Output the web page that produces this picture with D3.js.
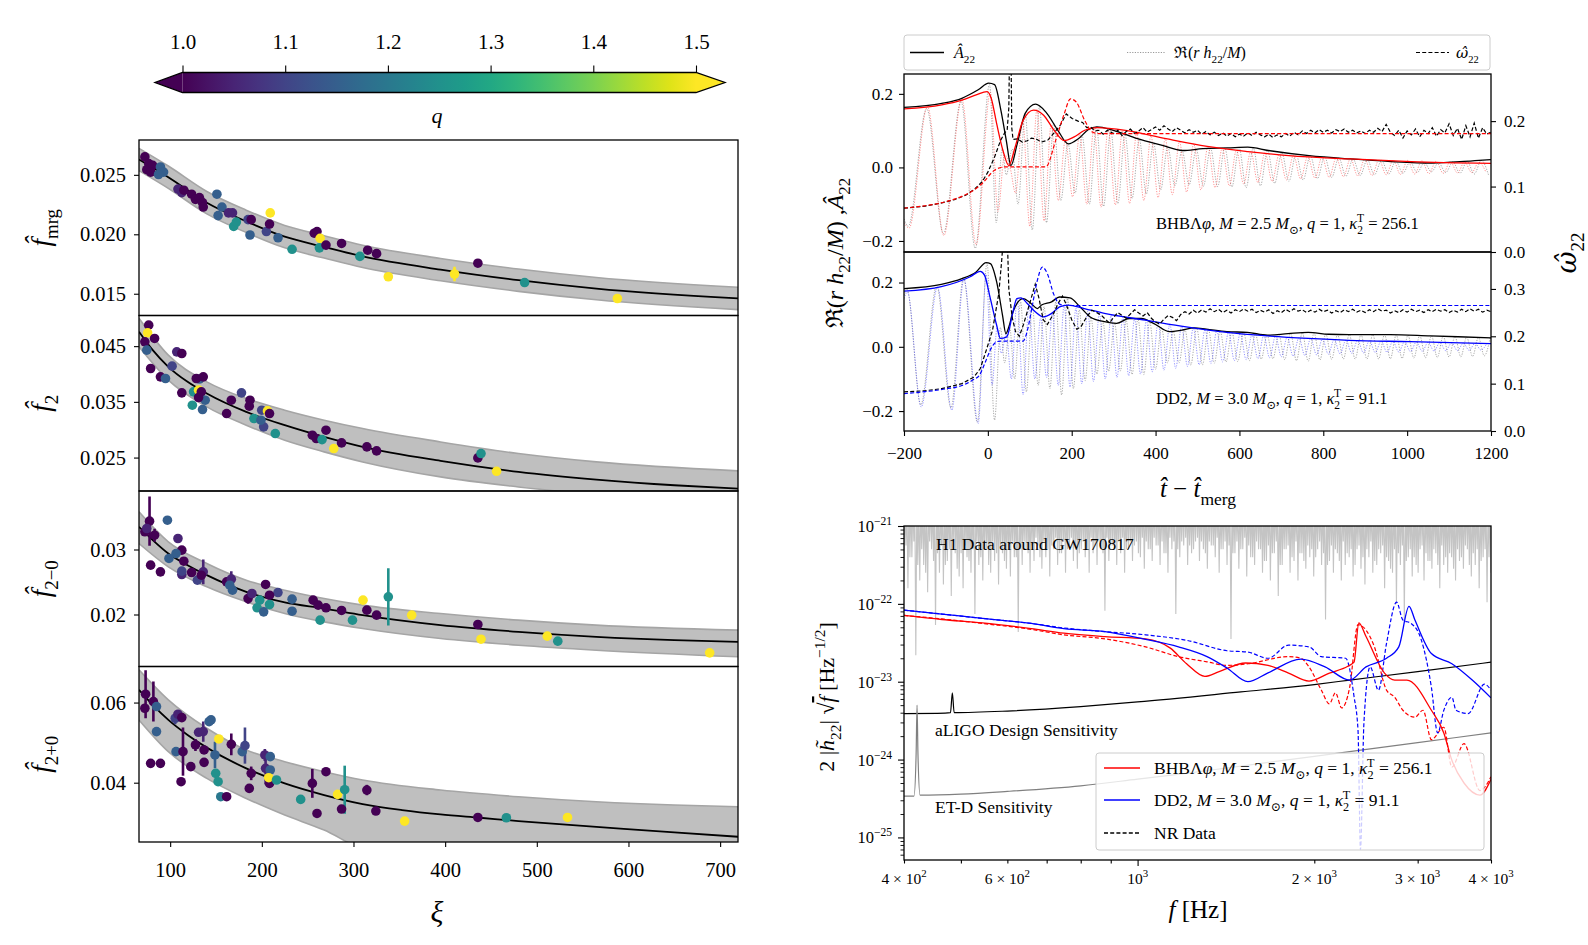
<!DOCTYPE html>
<html><head><meta charset="utf-8">
<script src="https://cdn.jsdelivr.net/npm/d3@7"></script>
<style>
body{margin:0;background:#fff}
svg text{font-family:"Liberation Serif","DejaVu Serif",serif;fill:#000}
</style>
</head><body>
<svg id="c" width="1588" height="945" xmlns="http://www.w3.org/2000/svg"></svg>
<script>
// ================= DATA =================
// colour bar
const qTicks = [1.0, 1.1, 1.2, 1.3, 1.4, 1.5];
const xiTicks = [100, 200, 300, 400, 500, 600, 700];

// left panels: points [xi, value, q, error]
const fmrgPts = [
[72.4,0.02651,1.0,0],[76.6,0.02594,1.0,0],[74.5,0.02543,1.0,0],[80.9,0.0258,1.0,0],[78.7,0.02523,1.0,0],
[89.4,0.02566,1.15,0],[92.8,0.02523,1.15,0],[87.3,0.02503,1.15,0],
[108.5,0.0238,1.05,0],[112.7,0.02351,1.05,0.0004],[114.9,0.02371,1.0,0],[123.4,0.02337,1.0,0],[127.6,0.02294,1.0,0],[131.9,0.02309,1.0,0],[135.3,0.02266,1.0,0],[136.1,0.02229,1.0,0],
[151.0,0.02337,1.15,0],[156.5,0.02229,1.15,0],[152.3,0.02157,1.15,0],[163.7,0.0218,1.05,0],[168.0,0.0218,1.05,0],[169.3,0.02066,1.25,0.0003],[172.2,0.02103,1.25,0],
[185,0.02123,1.1,0],[188.4,0.02123,1.0,0.0002],[187.1,0.01994,1.15,0],[205,0.02023,1.1,0],[208.4,0.02086,1.0,0.0002],[209.2,0.0218,1.5,0],[217.7,0.01971,1.15,0],[233,0.01874,1.25,0],
[257.2,0.02009,1.0,0],[260.2,0.02023,1.0,0.0003],[263.6,0.01966,1.5,0],[262.8,0.01886,1.25,0],[270,0.01909,1.0,0],[287,0.01923,1.0,0.0002],[307,0.01814,1.25,0],[315.5,0.01866,1.0,0],[325.2,0.01837,1.0,0],
[338,0.01643,1.5,0],[410.2,0.01666,1.5,0.0006],[435.7,0.01757,1.0,0.0003],[486.7,0.01594,1.25,0],[587.9,0.0146,1.5,0]
];
const f2Pts = [
[76.6,0.04877,1.0,0],[75.4,0.0474,1.5,0],[72.4,0.04578,1.0,0],[83,0.04638,1.0,0],[74.5,0.04428,1.15,0],[78.7,0.04099,1.0,0],[89.4,0.03949,1.0,0],[94.9,0.03919,1.15,0],[102.1,0.04141,1.1,0],[107.2,0.04398,1.05,0],[112.7,0.04368,1.0,0],[112.7,0.03662,1.0,0],[125.5,0.0368,1.25,0],[124.2,0.0344,1.25,0],[131.9,0.03909,1.15,0],[128.5,0.03919,1.0,0],[136.1,0.03949,1.0,0],[131,0.0371,1.5,0],[134,0.0368,1.0,0],[138.2,0.0353,1.15,0],[135.3,0.03362,1.15,0],[131,0.03578,1.0,0],[161.6,0.0329,1.0,0],[166.7,0.0353,1.0,0.0006],[177.8,0.03662,1.1,0],[187.1,0.0353,1.0,0],[186.3,0.03422,1.0,0],[191.4,0.032,1.25,0],[199.9,0.0335,1.1,0],[206.2,0.03338,1.5,0.0006],[208.4,0.0329,1.0,0],[202,0.03051,1.1,0],[199,0.03171,1.15,0],[214.7,0.02931,1.25,0],[255.1,0.02901,1.0,0],[259.4,0.02841,1.0,0],[265.7,0.02823,1.25,0.0006],[270,0.02991,1.0,0],[278.5,0.02662,1.5,0],[287,0.02763,1.0,0],[314.6,0.02692,1.0,0],[325.2,0.0262,1.0,0],[435.7,0.02494,1.0,0],[439.1,0.02572,1.25,0],[456.1,0.02254,1.5,0.0003]
];
const f2mPts = [
[77.5,0.03436,1.0,0.0038],[72.4,0.03272,1.0,0],[74.5,0.03323,1.05,0.001],[83,0.0322,1.0,0.001],[78.7,0.02759,1.0,0],[89.4,0.02656,1.0,0],[97,0.03451,1.15,0],[108.5,0.03169,1.05,0],[112.7,0.0299,1.0,0],[106.4,0.02938,1.15,0],[98.7,0.02862,1.15,0],[114.9,0.0282,1.0,0],[112.7,0.02615,1.05,0],[112.7,0.02667,1.1,0],[123.4,0.02646,1.0,0],[129.7,0.02528,1.1,0],[136.1,0.02656,1.05,0.0019],[134,0.02605,1.0,0],[161.6,0.02503,1.0,0],[166.7,0.02544,1.05,0.0012],[168,0.02374,1.15,0],[165,0.02451,1.15,0],[185,0.02246,1.0,0.0008],[189.2,0.02323,1.05,0],[204.1,0.02462,1.0,0],[217.6,0.02338,1.1,0],[208.4,0.02297,1.0,0],[197.7,0.02221,1.25,0],[208.4,0.02154,1.25,0],[194.8,0.02103,1.25,0],[202,0.02041,1.15,0],[233,0.02236,1.15,0],[233,0.02051,1.15,0],[256,0.02221,1.0,0],[261.5,0.02144,1.0,0],[270,0.02103,1.0,0],[263.6,0.01913,1.25,0],[287,0.02062,1.0,0],[298.9,0.01913,1.25,0],[310.4,0.02221,1.5,0],[314.6,0.02067,1.0,0],[325.2,0.0199,1.0,0],[338,0.02272,1.25,0.0044],[363.5,0.0199,1.5,0],[435.7,0.01846,1.0,0],[439.1,0.0162,1.5,0],[511.4,0.01667,1.5,0.0004],[522.9,0.0159,1.25,0],[688.6,0.0141,1.5,0]
];
const f2pPts = [
[73.2,0.06208,1.0,0.006],[72.4,0.05858,1.0,0],[81.7,0.06025,1.0,0.005],[85.1,0.059,1.15,0],[85.1,0.05275,1.15,0],[78.7,0.04483,1.0,0],[89.4,0.04483,1.0,0],[105.5,0.05608,1.1,0.0015],[108.5,0.05708,1.05,0],[112.7,0.05625,1.0,0],[106.4,0.04775,1.15,0],[114,0.04775,1.0,0.006],[111.9,0.04025,1.0,0],[122.5,0.044,1.0,0],[127.6,0.04942,1.0,0.0015],[131,0.05258,1.05,0],[136.1,0.05275,1.05,0.0025],[137,0.04817,1.0,0],[137,0.04508,1.0,0],[142.5,0.05525,1.15,0],[144.6,0.05567,1.15,0],[153.1,0.05092,1.5,0],[148.9,0.04692,1.15,0.0033],[149.7,0.04233,1.25,0],[152.3,0.04025,1.25,0],[155.2,0.0365,1.2,0],[161.6,0.0365,1.0,0],[166.7,0.04958,1.0,0.0027],[178.6,0.04775,1.15,0],[181.6,0.04925,1.1,0.0045],[186.3,0.03858,1.0,0],[188.4,0.04233,1.0,0.0017],[203.3,0.04692,1.05,0.0015],[204.1,0.04358,1.05,0.004],[209.2,0.0465,1.15,0],[209.2,0.04317,1.15,0],[208.4,0.03983,1.0,0],[207.5,0.04125,1.5,0.0012],[216,0.04067,1.25,0],[242.4,0.03583,1.25,0],[255.1,0.03983,1.0,0.0036],[260.2,0.03233,1.0,0],[270,0.04275,1.0,0],[282.7,0.03708,1.5,0],[287,0.03342,1.0,0.0008],[290.4,0.03825,1.25,0.006],[314.6,0.03817,1.0,0.0013],[324.4,0.03292,1.0,0],[355.8,0.03042,1.5,0],[435.7,0.03133,1.0,0],[466.8,0.03125,1.25,0],[533.5,0.03133,1.5,0.0008]
];

// fit curves and bands
const fmrgXi   = [66, 98, 140, 183, 225, 268, 310, 395, 480, 565, 720];
const fmrgFit  = [0.02629, 0.0248, 0.02266, 0.02109, 0.0198, 0.01894, 0.01814, 0.01703, 0.01614, 0.01543, 0.0146];
const fmrgUp   = [0.02723, 0.02574, 0.0236, 0.02203, 0.02074, 0.01988, 0.01908, 0.01797, 0.01708, 0.01637, 0.01554];
const fmrgLo   = [0.02535, 0.02386, 0.02172, 0.02015, 0.01886, 0.018, 0.0172, 0.01609, 0.0152, 0.01449, 0.01366];

const f2FitXi  = [66, 81, 98, 119, 140, 183, 225, 268, 310, 395, 480, 565, 650, 720];
const f2Fit    = [0.04757, 0.04428, 0.04129, 0.03859, 0.0365, 0.0332, 0.03081, 0.02871, 0.02692, 0.0244, 0.02243, 0.02105, 0.02003, 0.01943];
const f2BandXi = [66, 98, 140, 183, 225, 268, 310, 395, 480, 565, 720];
const f2Up     = [0.0500, 0.04338, 0.03859, 0.0356, 0.0335, 0.03171, 0.03021, 0.02781, 0.02572, 0.02422, 0.0226];
const f2Lo     = [0.04488, 0.03889, 0.0341, 0.03081, 0.02811, 0.02602, 0.02422, 0.02153, 0.01973, 0.0183, 0.0163];

const f2mFitXi = [66, 81, 98, 119, 140, 183, 225, 268, 310, 395, 480, 565, 650, 720];
const f2mFit   = [0.03349, 0.03144, 0.02938, 0.02759, 0.02605, 0.02349, 0.02185, 0.02092, 0.0199, 0.01836, 0.01733, 0.01656, 0.01605, 0.0158];
const f2mBandXi= [66, 98, 140, 183, 225, 268, 310, 395, 480, 565, 720];
const f2mUp    = [0.03579, 0.03118, 0.02785, 0.02528, 0.02374, 0.02246, 0.02144, 0.02015, 0.01913, 0.01836, 0.01759];
const f2mLo    = [0.03092, 0.02733, 0.02426, 0.02195, 0.02015, 0.01887, 0.01785, 0.01631, 0.01528, 0.01451, 0.01349];

const f2pFitXi = [66, 81, 98, 119, 140, 183, 225, 268, 310, 353, 395, 438, 480, 565, 650, 720];
const f2pFit   = [0.06317, 0.05942, 0.05567, 0.05192, 0.04875, 0.04358, 0.03983, 0.03692, 0.03467, 0.03317, 0.03208, 0.03125, 0.03042, 0.029, 0.02758, 0.0265];
const f2pBandXi= [66, 98, 140, 183, 225, 268, 310, 395, 480, 565, 650, 720];
const f2pUp    = [0.06817, 0.06067, 0.05358, 0.04817, 0.04525, 0.04275, 0.04067, 0.03817, 0.0365, 0.03525, 0.03442, 0.034];
const f2pLo    = [0.05567, 0.04775, 0.04108, 0.03608, 0.03192, 0.02817, 0.0235, 0.0205, 0.019, 0.018, 0.0172, 0.0168];

// top-right: time domain
const tTicks = [-200, 0, 200, 400, 600, 800, 1000, 1200];
const ampNRTop = [[-200,0.163],[-110,0.174],[-62,0.188],[-23,0.211],[2,0.229],[16,0.225],[31,0.156],[44,0.073],[55,0.005],[70,0.064],[89,0.147],[114,0.172],[138,0.151],[167,0.101],[192,0.064],[216,0.078],[240,0.103],[260,0.110],[299,0.101],[357,0.078],[416,0.06],[464,0.046],[513,0.051],[572,0.053],[620,0.055],[669,0.046],[766,0.032],[864,0.023],[961,0.016],[1059,0.012],[1156,0.018],[1200,0.021]];
const ampModelTop = [[-200,0.159],[-110,0.17],[-62,0.183],[-28,0.197],[-2,0.206],[8,0.188],[21,0.119],[36,0.046],[50,0.005],[65,0.055],[84,0.128],[109,0.156],[133,0.142],[158,0.101],[182,0.073],[206,0.083],[231,0.101],[260,0.108],[328,0.101],[425,0.078],[523,0.057],[620,0.043],[718,0.032],[864,0.023],[1010,0.016],[1200,0.011]];
const omegaNRTop = [[-200,0.067],[-150,0.070],[-110,0.075],[-80,0.080],[-52,0.087],[-30,0.097],[-13,0.108],[0,0.122],[16,0.145],[30,0.17],[40,0.182],[46,0.186],[50,0.22],[52,0.32],[55,0.32],[57,0.19],[60,0.172],[70,0.173],[82,0.168],[94,0.17],[104,0.174],[114,0.173],[128,0.168],[143,0.171],[158,0.182],[172,0.193],[187,0.211],[201,0.204],[215,0.2],[226,0.198],[236,0.19],[245,0.191],[255,0.185],[265,0.186],[275,0.18],[285,0.186]];
const omegaNRTopLateT0 = 300, omegaNRTopLateStep = 10;
const omegaNRTopLate = [0.181,0.186,0.178,0.184,0.188,0.181,0.185,0.190,0.183,0.187,
 0.191,0.186,0.193,0.188,0.184,0.190,0.186,0.182,0.187,0.183,
 0.186,0.180,0.184,0.179,0.183,0.178,0.182,0.177,0.181,0.176,
 0.180,0.177,0.182,0.178,0.183,0.179,0.176,0.180,0.175,0.179,
 0.176,0.181,0.177,0.183,0.179,0.185,0.181,0.186,0.182,0.187,
 0.183,0.186,0.182,0.187,0.184,0.188,0.183,0.186,0.182,0.185,
 0.181,0.186,0.183,0.189,0.184,0.195,0.183,0.178,0.186,0.174,
 0.185,0.179,0.188,0.176,0.186,0.181,0.190,0.177,0.187,0.182,
 0.196,0.178,0.189,0.172,0.193,0.176,0.197,0.174,0.190,0.180,
 0.183];
const omegaModelTop = [[-200,0.067],[-62,0.085],[-13,0.105],[16,0.125],[41,0.13],[138,0.13],[162,0.171],[182,0.211],[197,0.234],[211,0.229],[231,0.201],[250,0.183],[265,0.181],[1200,0.181]];
// Re(h) extrema: early part as [t, value], late part sampled every `step`
const reModelTopEarly = [[-200,-0.15],[-188,-0.165],[-144,0.165],[-105,-0.185],[-62,0.185],[-28,-0.21],[6,0.205],[24,-0.12],[40,0.035],[54,-0.005]];
const reModelTopT0 = 66, reModelTopStep = 17;
const reModelTopLate = [-0.07,0.13,-0.16,0.158,-0.145,0.115,-0.09,0.075,-0.08,0.09,-0.1,0.107,-0.108,0.105,-0.102,0.1,-0.098,0.094,-0.09,0.086,-0.082,0.078,-0.074,0.07,-0.067,0.064,-0.061,0.057,-0.055,0.052,-0.05,0.047,-0.045,0.043,-0.041,0.04,-0.038,0.036,-0.034,0.033,-0.031,0.03,-0.029,0.028,-0.027,0.026,-0.025,0.024,-0.023,0.023,-0.022,0.021,-0.02,0.02,-0.019,0.019,-0.018,0.018,-0.017,0.017,-0.016,0.016,-0.015,0.015,-0.014,0.014,-0.013];
const reNRTopEarly = [[-200,-0.14],[-190,-0.16],[-146,0.16],[-106,-0.18],[-64,0.18],[-30,-0.22],[4,0.225],[20,-0.15],[34,0.05],[44,-0.02],[58,0.05]];
const reNRTopT0 = 72, reNRTopStep = 17;
const reNRTopLate = [-0.1,0.147,-0.17,0.165,-0.15,0.12,-0.09,0.065,-0.07,0.085,-0.1,0.11,-0.106,0.102,-0.098,0.09,-0.084,0.077,-0.072,0.066,-0.061,0.056,-0.05,0.046,-0.047,0.049,-0.051,0.052,-0.052,0.053,-0.053,0.054,-0.055,0.053,-0.05,0.046,-0.043,0.04,-0.038,0.036,-0.034,0.032,-0.03,0.029,-0.027,0.026,-0.024,0.023,-0.022,0.021,-0.02,0.019,-0.018,0.017,-0.016,0.015,-0.014,0.013,-0.012,0.013,-0.014,0.015,-0.016,0.017,-0.018,0.019,-0.02];

const ampNRLow = [[-200,0.181],[-111,0.194],[-62,0.212],[-28,0.233],[-4,0.262],[6,0.259],[21,0.202],[35,0.098],[43,0.041],[50,0.062],[60,0.109],[84,0.150],[103,0.135],[118,0.119],[128,0.13],[152,0.14],[171,0.155],[196,0.152],[220,0.124],[244,0.093],[278,0.078],[307,0.073],[337,0.088],[366,0.088],[395,0.073],[434,0.047],[463,0.052],[492,0.059],[521,0.055],[570,0.047],[619,0.045],[667,0.036],[716,0.041],[764,0.045],[813,0.039],[862,0.038],[959,0.038],[1056,0.034],[1200,0.028]];
const ampModelLow = [[-200,0.173],[-111,0.187],[-42,0.218],[-18,0.235],[-8,0.223],[6,0.150],[21,0.067],[30,0.026],[45,0.031],[60,0.109],[69,0.150],[79,0.152],[94,0.135],[113,0.109],[132,0.093],[152,0.104],[171,0.124],[191,0.130],[230,0.119],[278,0.104],[376,0.083],[473,0.062],[570,0.045],[667,0.034],[764,0.026],[862,0.020],[1007,0.016],[1200,0.010]];
const omegaNRLow = [[-200,0.0825],[-150,0.085],[-110,0.0895],[-62,0.1],[-33,0.114],[-18,0.132],[-4,0.17],[11,0.212],[26,0.29],[33,0.36],[38,0.42],[46,0.42],[50,0.30],[58,0.24],[66,0.21],[75,0.2],[85,0.225],[100,0.27],[113,0.31],[122,0.28],[132,0.235],[142,0.225],[155,0.245],[168,0.27],[178,0.285],[188,0.265],[200,0.235],[212,0.215],[222,0.22],[235,0.24],[248,0.255],[260,0.25]];
const omegaNRLowLateT0 = 270, omegaNRLowLateStep = 10;
const omegaNRLowLate = [0.245,0.236,0.228,0.240,0.250,0.244,0.238,0.247,0.256,0.249,
 0.243,0.250,0.238,0.230,0.226,0.236,0.244,0.240,0.233,0.246,
 0.252,0.247,0.255,0.249,0.256,0.251,0.258,0.252,0.257,0.250,
 0.255,0.249,0.256,0.252,0.258,0.253,0.257,0.250,0.255,0.251,
 0.256,0.248,0.254,0.250,0.257,0.252,0.258,0.253,0.256,0.250,
 0.255,0.251,0.257,0.252,0.255,0.249,0.254,0.250,0.256,0.252,
 0.257,0.251,0.255,0.250,0.256,0.252,0.258,0.253,0.255,0.249,
 0.254,0.250,0.256,0.251,0.257,0.252,0.255,0.250,0.256,0.252,
 0.257,0.253,0.256,0.250,0.255,0.251,0.257,0.252,0.258,0.253,
 0.257,0.251,0.255,0.252];
const omegaModelLow = [[-200,0.079],[-150,0.083],[-100,0.089],[-62,0.096],[-35,0.108],[-20,0.118],[-4,0.15],[8,0.175],[20,0.188],[30,0.19],[84,0.19],[95,0.215],[105,0.26],[118,0.318],[130,0.346],[142,0.332],[157,0.289],[171,0.268],[185,0.265],[1200,0.265]];
const reModelLowEarly = [[-200,0.15],[-192,0.17],[-159,-0.187],[-120,0.185],[-86,-0.197],[-57,0.21],[-23,-0.238],[-4,0.225],[10,-0.12],[22,0.06],[32,-0.02],[44,0.04],[56,-0.1],[70,0.15],[84,-0.15],[98,0.13],[112,-0.1],[126,0.09],[140,-0.095],[154,0.105],[168,-0.12],[182,0.13],[196,-0.125]];
const reModelLowT0 = 210, reModelLowStep = 14;
const reModelLowLate = [0.12,-0.115,0.11,-0.108,0.105,-0.1,0.098,-0.095,0.092,-0.09,0.087,-0.085,0.082,-0.078,0.076,-0.073,0.07,-0.067,0.064,-0.061,0.059,-0.056,0.054,-0.052,0.05,-0.047,0.045,-0.043,0.042,-0.04,0.038,-0.037,0.035,-0.034,0.033,-0.031,0.03,-0.029,0.028,-0.027,0.026,-0.025,0.024,-0.023,0.023,-0.022,0.021,-0.02,0.02,-0.019,0.019,-0.018,0.018,-0.017,0.017,-0.016,0.016,-0.015,0.015,-0.014,0.014,-0.013,0.013,-0.012,0.012,-0.012,0.011,-0.011,0.011,-0.01,0.01];
const reNRLowEarly = [[-200,0.16],[-193,0.18],[-160,-0.18],[-122,0.19],[-88,-0.19],[-58,0.215],[-25,-0.235],[-2,0.26],[16,-0.228],[30,0.06],[40,-0.05],[52,0.06],[64,-0.1],[78,0.14],[92,-0.14],[106,0.13],[120,-0.12],[134,0.125],[148,-0.13],[162,0.14],[176,-0.15],[190,0.15],[204,-0.13]];
const reNRLowT0 = 218, reNRLowStep = 14;
const reNRLowLate = [0.115,-0.105,0.092,-0.085,0.08,-0.076,0.074,-0.075,0.082,-0.086,0.088,-0.086,0.078,-0.07,0.06,-0.05,0.048,-0.05,0.054,-0.057,0.058,-0.056,0.054,-0.051,0.049,-0.047,0.046,-0.046,0.045,-0.043,0.04,-0.038,0.036,-0.037,0.039,-0.04,0.042,-0.043,0.044,-0.045,0.043,-0.041,0.04,-0.039,0.038,-0.038,0.038,-0.038,0.038,-0.038,0.038,-0.038,0.038,-0.037,0.037,-0.036,0.036,-0.035,0.035,-0.034,0.034,-0.033,0.033,-0.032,0.032,-0.031,0.03,-0.03,0.029,-0.028,0.028];

// bottom-right: spectra [f (Hz), 2|h~|sqrt(f)]
const specModelBHB = [[400,7.1e-23],[464,6.3e-23],[544,5.7e-23],[659,4.8e-23],[749,4.2e-23],[880,3.8e-23],[1032,3.55e-23],[1137,2.7e-23],[1212,1.7e-23],[1302,1.17e-23],[1377,1.35e-23],[1528,1.74e-23],[1668,1.62e-23],[1808,1.29e-23],[1959,1.02e-23],[2122,1.29e-23],[2281,1.58e-23],[2337,1.78e-23],[2382,5.7e-23],[2450,3.8e-23],[2634,1.29e-23],[2742,1.05e-23],[2876,1.05e-23],[3166,4.3e-24],[3324,2.2e-24],[3431,9.8e-25],[3598,5.0e-25],[3830,3.5e-25],[4000,5.6e-25]];
const specNRBHB = [[400,7.1e-23],[464,6.4e-23],[544,5.6e-23],[659,4.7e-23],[749,4.0e-23],[880,3.55e-23],[1032,2.8e-23],[1174,2.1e-23],[1313,1.8e-23],[1420,1.62e-23],[1541,1.7e-23],[1808,2.1e-23],[1897,2.0e-23],[1959,1.55e-23],[2056,7.8e-24],[2122,5.2e-24],[2173,7.2e-24],[2227,4.6e-24],[2298,8.5e-24],[2374,5.4e-23],[2450,4.6e-23],[2532,2.8e-23],[2655,7.8e-24],[2742,6.3e-24],[2831,4.3e-24],[2968,3.5e-24],[3064,4.3e-24],[3166,1.8e-24],[3324,2.6e-24],[3431,8e-25],[3598,1.6e-24],[3830,4e-25],[4000,6e-25]];
const specModelDD2 = [[400,8.3e-23],[464,7.4e-23],[544,6.5e-23],[659,5.6e-23],[749,4.8e-23],[880,4.4e-23],[1032,3.5e-23],[1174,2.8e-23],[1313,2.1e-23],[1420,1.5e-23],[1541,1.0e-23],[1668,1.3e-23],[1897,1.95e-23],[2086,1.55e-23],[2298,1.05e-23],[2450,1.55e-23],[2655,2.0e-23],[2786,2.8e-23],[2900,9.3e-23],[2968,6.2e-23],[3166,2.3e-23],[3431,1.7e-23],[3716,1.05e-23],[4000,6.2e-24]];
const specNRDD2 = [[400,8.3e-23],[464,7.4e-23],[544,6.5e-23],[659,5.6e-23],[749,4.9e-23],[880,4.4e-23],[1032,4.0e-23],[1212,3.4e-23],[1420,2.5e-23],[1541,2.4e-23],[1668,2.0e-23],[1808,2.95e-23],[1959,2.8e-23],[2056,2.1e-23],[2262,2.0e-23],[2337,6.5e-24],[2374,2.4e-24],[2397,7e-26],[2430,3e-24],[2490,1.55e-23],[2572,7.8e-24],[2655,3.1e-23],[2762,1.05e-22],[2831,6.2e-23],[2924,5.6e-23],[3041,3.5e-23],[3166,8.5e-24],[3245,2.2e-24],[3324,4.3e-24],[3431,6.3e-24],[3487,4.3e-24],[3657,3.9e-24],[3899,9.3e-24],[4000,7.8e-24]];
const aligoCurve = [[400,3.9e-24],[470,3.95e-24],[480,4.0e-24],[483.5,7.2e-24],[487,4.0e-24],[600,4.2e-24],[800,4.8e-24],[1000,5.5e-24],[1500,7.4e-24],[2000,9.2e-24],[2300,1.05e-23],[3000,1.35e-23],[4000,1.78e-23]];
const etdCurve = [[400,3.4e-25],[416,3.4e-25],[419.5,1.2e-24],[421,5e-24],[422.5,1.2e-24],[426,3.5e-25],[500,3.6e-25],[600,3.9e-25],[800,4.6e-25],[1000,5.6e-25],[1200,6.6e-25],[1600,8.8e-25],[2000,1.1e-24],[2400,1.32e-24],[3000,1.65e-24],[4000,2.2e-24]];
// H1 data: log10 of the dips on a log-spaced 400..4000 Hz grid (two interleaved sets); between dips the trace runs off the top
const h1DipExp = [-21.55,-21.8,-21.4,-22.66,-21.7,-21.5,-21.85,-21.3,-22.27,-21.6,
-21.75,-21.45,-21.9,-21.35,-21.65,-21.8,-21.4,-21.6,-22.13,-21.5,
-21.7,-21.3,-21.6,-21.45,-21.75,-21.35,-21.55,-21.65,-21.4,-22.36,
-21.5,-21.3,-21.6,-21.45,-21.25,-21.55,-21.4,-21.65,-21.3,-21.5,
-21.35,-21.6,-21.25,-21.45,-21.55,-21.3,-21.4,-21.6,-21.35,-21.5,
-21.3,-22.09,-21.45,-21.25,-21.5,-21.35,-21.6,-21.3,-21.45,-21.2,
-21.4,-21.55,-21.3,-21.45,-21.25,-21.5,-21.35,-21.6,-21.3,-22.13,
-21.4,-21.25,-21.5,-21.35,-21.2,-21.45,-21.3,-21.55,-21.25,-21.4,
-21.6,-21.3,-21.5,-22.45,-21.35,-21.55,-21.3,-21.65,-21.4,-21.5,
-21.3,-21.6,-21.45,-21.7,-21.35,-21.9,-21.5,-21.3,-21.6,-21.45,
-21.7,-21.35,-21.55,-21.4,-21.65,-21.3,-21.5,-22.2,-21.45,-21.6,
-21.35,-21.7,-21.5,-21.4,-21.65,-21.3,-21.55,-21.75,-21.4,-21.6,
-21.5,-21.35,-21.8,-21.45,-21.6,-22.0,-21.5,-22.2,-21.4,-21.65,
-21.5,-21.3,-21.7,-21.45,-21.55,-21.35,-21.8,-21.5,-21.6,-21.4,
-21.7,-21.45,-21.55,-21.3,-21.65,-21.5,-21.8,-21.4,-21.98,-21.6];
const h1DipExp2 = [-21.25,-21.4,-21.2,-21.5,-21.3,-21.6,-21.2,-21.45,-21.35,-21.25,
-21.5,-21.3,-21.2,-21.55,-21.35,-21.25,-21.45,-21.3,-21.2,-21.4,
-21.3,-21.5,-21.2,-21.35,-21.25,-21.45,-21.3,-21.2,-21.4,-21.3,
-21.2,-21.35,-21.25,-21.15,-21.4,-21.2,-21.3,-21.25,-21.15,-21.35,
-21.2,-21.3,-21.15,-21.25,-21.35,-21.2,-21.3,-21.15,-21.25,-21.2,
-21.35,-21.15,-21.25,-21.3,-21.2,-21.15,-21.3,-21.2,-21.25,-21.35,
-21.15,-21.2,-21.3,-21.15,-21.25,-21.2,-21.35,-21.15,-21.2,-21.3,
-21.2,-21.15,-21.25,-21.3,-21.15,-21.2,-21.35,-21.2,-21.25,-21.15,
-21.3,-21.2,-21.25,-21.35,-21.2,-21.3,-21.15,-21.25,-21.4,-21.2,
-21.3,-21.45,-21.25,-21.35,-21.2,-21.5,-21.3,-21.25,-21.4,-21.2,
-21.35,-21.45,-21.25,-21.3,-21.4,-21.2,-21.35,-21.5,-21.25,-21.3,
-21.45,-21.2,-21.35,-21.3,-21.5,-21.25,-21.4,-21.3,-21.2,-21.45,
-21.3,-21.25,-21.4,-21.55,-21.3,-21.35,-21.25,-21.45,-21.3,-21.4,
-21.6,-21.25,-21.35,-21.45,-21.3,-21.5,-21.25,-21.4,-21.35,-21.55,
-21.3,-21.4,-21.25,-21.5,-21.35,-21.3,-21.45,-21.3,-21.4];
const h1OffTop = 2e-21;
const fTicksLabeled = [400, 600, 1000, 2000, 3000, 4000];
const fTickLabels = [["4 × 10","2"],["6 × 10","2"],["10","3"],["2 × 10","3"],["3 × 10","3"],["4 × 10","3"]];
const fTicksMinor = [500, 700, 800, 900];

// ================= DRAWING =================
const svg = d3.select('#c');
const defs = svg.append('defs');
const FONT = '"Liberation Serif","DejaVu Serif",serif';

function rich(parent, x, y, segs, fs, o = {}) {
  const t = parent.append('text').attr('x', x).attr('y', y).attr('font-size', fs)
    .attr('text-anchor', o.anchor || 'start');
  if (o.rotate) t.attr('transform', `rotate(${o.rotate},${x},${y})`);
  let cur = 0;
  segs.forEach(s => {
    const str = typeof s === 'string' ? s : s[0];
    const so = typeof s === 'string' ? {} : (s[1] || {});
    const shift = so.sub ? fs * 0.3 : so.sup ? -fs * 0.42 : 0;
    const ts = t.append('tspan').text(str);
    if (shift !== cur) ts.attr('dy', shift - cur);
    cur = shift;
    if (so.i) ts.attr('font-style', 'italic');
    if (so.sub || so.sup) ts.attr('font-size', fs * (so.sz || 0.7));
    if (so.dx) ts.attr('dx', so.dx);
    if (so.ol) ts.attr('text-decoration', 'overline');
    if (so.dv) ts.style('font-family', '"DejaVu Serif", serif');
  });
  return t;
}
function clip(id, x, y, w, h) {
  defs.append('clipPath').attr('id', id).append('rect').attr('x', x).attr('y', y).attr('width', w).attr('height', h);
  return `url(#${id})`;
}
function styleAxis(g, fs) {
  g.attr('font-family', FONT).attr('font-size', fs);
  g.select('.domain').remove();
  g.selectAll('.tick line').attr('stroke', '#000').attr('stroke-width', 1.1);
}

// ---------- colour bar ----------
const cq = d3.scaleSequential(d3.interpolateViridis).domain([1.0, 1.5]);
const cbx = d3.scaleLinear().domain([1.0, 1.5]).range([182.5, 696]);
const cbTop = 72.5, cbBot = 92.5, cbMid = 82.5;
const grad = defs.append('linearGradient').attr('id', 'vir').attr('x1', '0%').attr('x2', '100%');
d3.range(0, 1.0001, 0.05).forEach(p => grad.append('stop').attr('offset', (p * 100) + '%').attr('stop-color', d3.interpolateViridis(p)));
svg.append('rect').attr('x', cbx(1.0)).attr('y', cbTop).attr('width', cbx(1.5) - cbx(1.0)).attr('height', cbBot - cbTop).attr('fill', 'url(#vir)');
svg.append('path').attr('d', `M${cbx(1.0)},${cbTop}L155,${cbMid}L${cbx(1.0)},${cbBot}Z`).attr('fill', cq(1.0));
svg.append('path').attr('d', `M${cbx(1.5)},${cbTop}L725,${cbMid}L${cbx(1.5)},${cbBot}Z`).attr('fill', cq(1.5));
svg.append('path').attr('d', `M${cbx(1.0)},${cbTop}L${cbx(1.5)},${cbTop}L725,${cbMid}L${cbx(1.5)},${cbBot}L${cbx(1.0)},${cbBot}L155,${cbMid}Z`)
  .attr('fill', 'none').attr('stroke', '#000').attr('stroke-width', 1.3);
const cbAxis = svg.append('g').attr('transform', `translate(0,${cbTop})`)
  .call(d3.axisTop(cbx).tickValues(qTicks).tickFormat(d3.format('.1f')).tickSize(7).tickPadding(17));
styleAxis(cbAxis, 21);
rich(svg, 437, 123, [['q', { i: 1 }]], 22, { anchor: 'middle' });

// ---------- left panels ----------
const Lx0 = 139, Lx1 = 738;
const xiS = d3.scaleLinear().domain([66, 719.5]).range([Lx0, Lx1]);
const leftPanels = [
  { pts: fmrgPts, fitXi: fmrgXi, fit: fmrgFit, bandXi: fmrgXi, up: fmrgUp, lo: fmrgLo, dom: [0.01317, 0.02793], ticks: [0.015, 0.020, 0.025], fmt: '.3f', y0: 140, y1: 315.5, lab: [['f\u0302', { i: 1 }], ['mrg', { sub: 1 }]] },
  { pts: f2Pts, fitXi: f2FitXi, fit: f2Fit, bandXi: f2BandXi, up: f2Up, lo: f2Lo, dom: [0.0190, 0.0505], ticks: [0.025, 0.035, 0.045], fmt: '.3f', y0: 315.5, y1: 491, lab: [['f\u0302', { i: 1 }], ['2', { sub: 1 }]] },
  { pts: f2mPts, fitXi: f2mFitXi, fit: f2mFit, bandXi: f2mBandXi, up: f2mUp, lo: f2mLo, dom: [0.0120, 0.0390], ticks: [0.02, 0.03], fmt: '.2f', y0: 491, y1: 666.5, lab: [['f\u0302', { i: 1 }], ['2\u22120', { sub: 1 }]] },
  { pts: f2pPts, fitXi: f2pFitXi, fit: f2pFit, bandXi: f2pBandXi, up: f2pUp, lo: f2pLo, dom: [0.0252, 0.0690], ticks: [0.04, 0.06], fmt: '.2f', y0: 666.5, y1: 842, lab: [['f\u0302', { i: 1 }], ['2+0', { sub: 1 }]] }
];
leftPanels.forEach((p, k) => {
  const y = d3.scaleLinear().domain(p.dom).range([p.y1, p.y0]);
  const g = svg.append('g');
  const gc = g.append('g').attr('clip-path', clip('cl' + k, Lx0, p.y0, Lx1 - Lx0, p.y1 - p.y0));
  const band = p.bandXi.map((x, i) => ({ x, u: p.up[i], l: p.lo[i] }));
  gc.append('path').datum(band).attr('d', d3.area().x(d => xiS(d.x)).y0(d => y(d.l)).y1(d => y(d.u)).curve(d3.curveMonotoneX))
    .attr('fill', '#bfbfbf');
  ['u', 'l'].forEach(key => gc.append('path').datum(band)
    .attr('d', d3.line().x(d => xiS(d.x)).y(d => y(d[key])).curve(d3.curveMonotoneX))
    .attr('fill', 'none').attr('stroke', '#a5a5a5').attr('stroke-width', 1.6));
  const fitData = p.fitXi.map((x, i) => [x, p.fit[i]]);
  gc.append('path').datum(fitData).attr('d', d3.line().x(d => xiS(d[0])).y(d => y(d[1])).curve(d3.curveMonotoneX))
    .attr('fill', 'none').attr('stroke', '#000').attr('stroke-width', 1.8);
  gc.selectAll('line.eb').data(p.pts.filter(d => d[3] > 0)).enter().append('line')
    .attr('x1', d => xiS(d[0])).attr('x2', d => xiS(d[0]))
    .attr('y1', d => y(d[1] - d[3])).attr('y2', d => y(d[1] + d[3]))
    .attr('stroke', d => cq(d[2])).attr('stroke-width', 2.6);
  gc.selectAll('circle').data(p.pts).enter().append('circle')
    .attr('cx', d => xiS(d[0])).attr('cy', d => y(d[1])).attr('r', 4.8).attr('fill', d => cq(d[2]));
  g.append('rect').attr('x', Lx0).attr('y', p.y0).attr('width', Lx1 - Lx0).attr('height', p.y1 - p.y0)
    .attr('fill', 'none').attr('stroke', '#000').attr('stroke-width', 1.3);
  const ax = g.append('g').attr('transform', `translate(${Lx0},0)`)
    .call(d3.axisLeft(y).tickValues(p.ticks).tickFormat(d3.format(p.fmt)).tickSize(5).tickPadding(8));
  styleAxis(ax, 20.5);
  rich(svg, 50, (p.y0 + p.y1) / 2, p.lab, 27, { anchor: 'middle', rotate: -90 });
  if (k === 3) {
    const bx = g.append('g').attr('transform', `translate(0,${p.y1})`)
      .call(d3.axisBottom(xiS).tickValues(xiTicks).tickSize(5).tickPadding(15));
    styleAxis(bx, 20.5);
  }
});
rich(svg, 437, 922, [['ξ', { i: 1 }]], 30, { anchor: 'middle' });

// ---------- top-right panels ----------
const Rx0 = 904, Rx1 = 1491;
const tS = d3.scaleLinear().domain([-200, 1200]).range([Rx0, Rx1]);
function joinSeries(early, t0, step, vals) { return early.concat(vals.map((v, i) => [t0 + i * step, v])); }
const topPanels = [
  { y0: 74, y1: 252, dl: [-0.230, 0.254], dr: [0, 0.272], col: '#ff0000', dotCol: 'rgba(255,60,60,0.55)',
    lt: [-0.2, 0.0, 0.2], rt: [0.0, 0.1, 0.2], ampNR: ampNRTop, ampM: ampModelTop,
    omNR: joinSeries(omegaNRTop, omegaNRTopLateT0, omegaNRTopLateStep, omegaNRTopLate), omM: omegaModelTop,
    reNR: joinSeries(reNRTopEarly, reNRTopT0, reNRTopStep, reNRTopLate), reM: joinSeries(reModelTopEarly, reModelTopT0, reModelTopStep, reModelTopLate),
    ann: [['BHBΛ'], ['φ', { i: 1 }], [', '], ['M', { i: 1 }], [' = 2.5 '], ['M', { i: 1 }], ['⊙', { sub: 1 }], [', '], ['q', { i: 1 }], [' = 1, '], ['κ', { i: 1 }], ['2', { sub: 1 }], ['T', { sup: 1, dx: -6 }], [' = 256.1']],
    annY: 229 },
  { y0: 252, y1: 431, dl: [-0.262, 0.295], dr: [0, 0.378], col: '#0000ff', dotCol: 'rgba(60,60,255,0.55)',
    lt: [-0.2, 0.0, 0.2], rt: [0.0, 0.1, 0.2, 0.3], ampNR: ampNRLow, ampM: ampModelLow,
    omNR: joinSeries(omegaNRLow, omegaNRLowLateT0, omegaNRLowLateStep, omegaNRLowLate), omM: omegaModelLow,
    reNR: joinSeries(reNRLowEarly, reNRLowT0, reNRLowStep, reNRLowLate), reM: joinSeries(reModelLowEarly, reModelLowT0, reModelLowStep, reModelLowLate),
    ann: [['DD2, '], ['M', { i: 1 }], [' = 3.0 '], ['M', { i: 1 }], ['⊙', { sub: 1 }], [', '], ['q', { i: 1 }], [' = 1, '], ['κ', { i: 1 }], ['2', { sub: 1 }], ['T', { sup: 1, dx: -6 }], [' = 91.1']],
    annY: 404 }
];
topPanels.forEach((p, k) => {
  const yl = d3.scaleLinear().domain(p.dl).range([p.y1, p.y0]);
  const yr = d3.scaleLinear().domain(p.dr).range([p.y1, p.y0]);
  const g = svg.append('g');
  const gc = g.append('g').attr('clip-path', clip('ct' + k, Rx0, p.y0, Rx1 - Rx0, p.y1 - p.y0));
  const lineL = d3.line().x(d => tS(d[0])).y(d => yl(d[1])).curve(d3.curveMonotoneX);
  const lineR = d3.line().x(d => tS(d[0])).y(d => yr(d[1])).curve(d3.curveMonotoneX);
  const lineRlin = d3.line().x(d => tS(d[0])).y(d => yr(d[1]));
  gc.append('path').attr('d', lineL(p.reNR)).attr('fill', 'none').attr('stroke', 'rgba(110,110,110,0.6)').attr('stroke-width', 1).attr('stroke-dasharray', '1.2,1.4');
  gc.append('path').attr('d', lineL(p.reM)).attr('fill', 'none').attr('stroke', p.dotCol).attr('stroke-width', 1).attr('stroke-dasharray', '1.2,1.4');
  gc.append('path').attr('d', lineL(p.ampNR)).attr('fill', 'none').attr('stroke', '#000').attr('stroke-width', 1.3);
  gc.append('path').attr('d', lineL(p.ampM)).attr('fill', 'none').attr('stroke', p.col).attr('stroke-width', 1.3);
  gc.append('path').attr('d', lineRlin(p.omNR)).attr('fill', 'none').attr('stroke', '#000').attr('stroke-width', 1.2).attr('stroke-dasharray', '4,2.2');
  gc.append('path').attr('d', lineR(p.omM)).attr('fill', 'none').attr('stroke', p.col).attr('stroke-width', 1.2).attr('stroke-dasharray', '4,2.2');
  g.append('rect').attr('x', Rx0).attr('y', p.y0).attr('width', Rx1 - Rx0).attr('height', p.y1 - p.y0)
    .attr('fill', 'none').attr('stroke', '#000').attr('stroke-width', 1.3);
  const al = g.append('g').attr('transform', `translate(${Rx0},0)`)
    .call(d3.axisLeft(yl).tickValues(p.lt).tickFormat(d3.format('.1f')).tickSize(5).tickPadding(6));
  styleAxis(al, 17);
  const ar = g.append('g').attr('transform', `translate(${Rx1},0)`)
    .call(d3.axisRight(yr).tickValues(p.rt).tickFormat(d3.format('.1f')).tickSize(5).tickPadding(8));
  styleAxis(ar, 17);
  rich(svg, 1156, p.annY, p.ann, 16.5);
  if (k === 1) {
    const bx = g.append('g').attr('transform', `translate(0,${p.y1})`)
      .call(d3.axisBottom(tS).tickValues(tTicks).tickFormat(d3.format('d')).tickSize(5).tickPadding(11));
    styleAxis(bx, 17);
  }
});
rich(svg, 1198, 497, [['t\u0302', { i: 1 }], [' − '], ['t\u0302', { i: 1 }], ['merg', { sub: 1 }]], 25, { anchor: 'middle' });
rich(svg, 843, 253, [['ℜ('], ['r', { i: 1 }], [' '], ['h', { i: 1 }], ['22', { sub: 1 }], ['/'], ['M', { i: 1 }], [') ,'], ['A\u0302', { i: 1 }], ['22', { sub: 1 }]], 24, { anchor: 'middle', rotate: -90 });
rich(svg, 1576, 253, [['ω\u0302', { i: 1, dv: 1 }], ['22', { sub: 1 }]], 27, { anchor: 'middle', rotate: -90 });

// top legend
const lg = svg.append('g');
lg.append('rect').attr('x', 904).attr('y', 35).attr('width', 586).attr('height', 35).attr('rx', 3)
  .attr('fill', '#fff').attr('stroke', '#cccccc').attr('stroke-width', 1);
lg.append('line').attr('x1', 910).attr('x2', 944).attr('y1', 52.5).attr('y2', 52.5).attr('stroke', '#000').attr('stroke-width', 1.3);
rich(lg, 954, 58, [['A\u0302', { i: 1 }], ['22', { sub: 1 }]], 16);
lg.append('line').attr('x1', 1127).attr('x2', 1166).attr('y1', 52.5).attr('y2', 52.5).attr('stroke', 'rgba(110,110,110,0.7)').attr('stroke-width', 1).attr('stroke-dasharray', '1.2,1.4');
rich(lg, 1174, 58, [['ℜ('], ['r', { i: 1 }], [' '], ['h', { i: 1 }], ['22', { sub: 1 }], ['/'], ['M', { i: 1 }], [')']], 16);
lg.append('line').attr('x1', 1416).attr('x2', 1449).attr('y1', 52.5).attr('y2', 52.5).attr('stroke', '#000').attr('stroke-width', 1.2).attr('stroke-dasharray', '4,2.2');
rich(lg, 1456, 58, [['ω\u0302', { i: 1, dv: 1 }], ['22', { sub: 1 }]], 15);

// ---------- bottom-right panel ----------
const By0 = 526, By1 = 860;
const fS = d3.scaleLog().domain([400, 4000]).range([Rx0, Rx1]);
const sS = d3.scaleLog().domain([Math.pow(10, -25.29), 1e-21]).range([By1, By0]);
const gb = svg.append('g');
const gbc = gb.append('g').attr('clip-path', clip('cb', Rx0, By0, Rx1 - Rx0, By1 - By0));
const nDip = h1DipExp.length;
const h1Pts = [];
h1DipExp.forEach((e, i) => {
  const fAt = u => 400 * Math.pow(10, u / (nDip - 1));
  h1Pts.push([fAt(i), Math.pow(10, e)]);
  if (i < nDip - 1) {
    h1Pts.push([fAt(i + 0.25), h1OffTop]);
    h1Pts.push([fAt(i + 0.5), Math.pow(10, h1DipExp2[i])]);
    h1Pts.push([fAt(i + 0.75), h1OffTop]);
  }
});
const specLine = d3.line().x(d => fS(d[0])).y(d => sS(d[1]));
const specSmooth = d3.line().x(d => fS(d[0])).y(d => sS(d[1])).curve(d3.curveMonotoneX);
gbc.append('path').attr('d', specLine(h1Pts)).attr('fill', 'none').attr('stroke', '#c4c4c4').attr('stroke-width', 1.1);
gbc.append('path').attr('d', specSmooth(aligoCurve)).attr('fill', 'none').attr('stroke', '#000').attr('stroke-width', 1.2);
gbc.append('path').attr('d', specSmooth(etdCurve)).attr('fill', 'none').attr('stroke', '#808080').attr('stroke-width', 1.2);
gbc.append('path').attr('d', specSmooth(specNRBHB)).attr('fill', 'none').attr('stroke', '#ff0000').attr('stroke-width', 1.2).attr('stroke-dasharray', '4,2.2');
gbc.append('path').attr('d', specSmooth(specNRDD2)).attr('fill', 'none').attr('stroke', '#0000ff').attr('stroke-width', 1.2).attr('stroke-dasharray', '4,2.2');
gbc.append('path').attr('d', specSmooth(specModelBHB)).attr('fill', 'none').attr('stroke', '#ff0000').attr('stroke-width', 1.3);
gbc.append('path').attr('d', specSmooth(specModelDD2)).attr('fill', 'none').attr('stroke', '#0000ff').attr('stroke-width', 1.3);
rich(gb, 936, 550, ['H1 Data around GW170817'], 17.5);
rich(gb, 935, 736, ['aLIGO Design Sensitivity'], 17.5);
rich(gb, 935, 813, ['ET-D Sensitivity'], 17.5);
// legend
const bl = gb.append('g');
bl.append('rect').attr('x', 1096).attr('y', 753).attr('width', 388).attr('height', 97).attr('rx', 3)
  .attr('fill', 'rgba(255,255,255,0.8)').attr('stroke', '#cccccc').attr('stroke-width', 1);
[[768, '#ff0000', null], [800, '#0000ff', null], [833, '#000', '4,2.2']].forEach(([yy, c, da]) => {
  const l = bl.append('line').attr('x1', 1104).attr('x2', 1140).attr('y1', yy).attr('y2', yy).attr('stroke', c).attr('stroke-width', 1.3);
  if (da) l.attr('stroke-dasharray', da);
});
rich(bl, 1154, 774, [['BHBΛ'], ['φ', { i: 1 }], [', '], ['M', { i: 1 }], [' = 2.5 '], ['M', { i: 1 }], ['⊙', { sub: 1 }], [', '], ['q', { i: 1 }], [' = 1, '], ['κ', { i: 1 }], ['2', { sub: 1 }], ['T', { sup: 1, dx: -6.5 }], [' = 256.1']], 17.5);
rich(bl, 1154, 806, [['DD2, '], ['M', { i: 1 }], [' = 3.0 '], ['M', { i: 1 }], ['⊙', { sub: 1 }], [', '], ['q', { i: 1 }], [' = 1, '], ['κ', { i: 1 }], ['2', { sub: 1 }], ['T', { sup: 1, dx: -6.5 }], [' = 91.1']], 17.5);
rich(bl, 1154, 839, ['NR Data'], 17.5);
gb.append('rect').attr('x', Rx0).attr('y', By0).attr('width', Rx1 - Rx0).attr('height', By1 - By0)
  .attr('fill', 'none').attr('stroke', '#000').attr('stroke-width', 1.3);
// y axis (log)
const yMajor = [1e-21, 1e-22, 1e-23, 1e-24, 1e-25];
const yMinor = [];
[-26, -25, -24, -23, -22].forEach(e => [2, 3, 4, 5, 6, 7, 8, 9].forEach(m => { const v = m * Math.pow(10, e); if (v >= Math.pow(10, -25.29) && v <= 1e-21) yMinor.push(v); }));
const ayM = gb.append('g').attr('transform', `translate(${Rx0},0)`).call(d3.axisLeft(sS).tickValues(yMajor).tickFormat('').tickSize(6));
styleAxis(ayM, 16);
const aym = gb.append('g').attr('transform', `translate(${Rx0},0)`).call(d3.axisLeft(sS).tickValues(yMinor).tickFormat('').tickSize(3.5));
styleAxis(aym, 16);
aym.selectAll('.tick line').attr('stroke-width', 0.9);
yMajor.forEach(v => {
  const e = Math.round(Math.log10(v));
  rich(gb, 892, sS(v) + 6, [['10'], ['\u2212' + (-e), { sup: 1 }]], 16.5, { anchor: 'end' });
});
// x axis (log)
const axm = gb.append('g').attr('transform', `translate(0,${By1})`).call(d3.axisBottom(fS).tickValues(fTicksMinor.concat([400, 600, 2000, 3000, 4000])).tickFormat('').tickSize(3.5));
styleAxis(axm, 15);
const axM = gb.append('g').attr('transform', `translate(0,${By1})`).call(d3.axisBottom(fS).tickValues([1000]).tickFormat('').tickSize(6));
styleAxis(axM, 15);
fTicksLabeled.forEach((v, i) => {
  rich(gb, fS(v), 884, [[fTickLabels[i][0]], [fTickLabels[i][1], { sup: 1 }]], 15.5, { anchor: 'middle' });
});
rich(svg, 1198, 918, [['f', { i: 1 }], [' [Hz]']], 25, { anchor: 'middle' });
rich(svg, 834, 697, [['2 |'], ['h\u0303', { i: 1 }], ['22', { sub: 1 }], ['| √'], ['f', { i: 1, ol: 1 }], [' [Hz'], ['\u22121/2', { sup: 1 }], [']']], 22, { anchor: 'middle', rotate: -90 });
</script>
</body></html>
